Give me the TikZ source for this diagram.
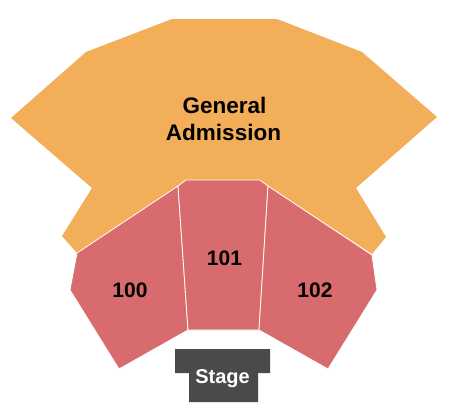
\documentclass[tikz,border=0pt]{standalone}
\usepackage{fontspec}
\setmainfont{Liberation Sans}
\definecolor{gacol}{HTML}{F2AE58}
\definecolor{seccol}{HTML}{D86B6D}
\definecolor{stagecol}{HTML}{4A4A4A}
\tikzset{
  area/.style={draw=white, line width=0.8pt, line join=round},
  lbl/.style={font=\bfseries\fontsize{21}{25}\selectfont, text=black, anchor=base, inner sep=0pt},
}
\begin{document}
\begin{tikzpicture}[x=1pt, y=-1pt]
\useasboundingbox (0,0) rectangle (450,413);
% General Admission
\fill[gacol] (172,19) -- (277,19) -- (362,52) -- (437,117) -- (356,188) -- (386,237) -- (372,254)
  -- (268,186) -- (260,180) -- (186,180) -- (178,186) -- (77,253) -- (62,236) -- (92,188)
  -- (11,118) -- (86,52) -- cycle;
% Sections
\filldraw[area, fill=seccol] (77,253) -- (178,186) -- (188,330) -- (119,369) -- (70,290) -- cycle;
\filldraw[area, fill=seccol] (186,180) -- (260,180) -- (268,186) -- (259,330) -- (188,330) -- (178,186) -- cycle;
\filldraw[area, fill=seccol] (268,186) -- (372,255) -- (377,290) -- (328,369) -- (259,330) -- cycle;
% Stage
\fill[stagecol] (175,349) -- (270,349) -- (270,373) -- (258,373) -- (258,402) -- (189,402) -- (189,373) -- (175,373) -- cycle;
% Labels
\node[lbl, font=\bfseries\fontsize{22.5}{27}\selectfont] (gen) at (224.5,113) {General};
\node[lbl, font=\bfseries\fontsize{22.5}{27}\selectfont] (adm) at (223.5,140) {Admission};
\node[lbl] (s100) at (130,297) {100};
\node[lbl] (s101) at (224.5,265) {101};
\node[lbl] (s102) at (315,297) {102};
\node[lbl, text=white, font=\bfseries\fontsize{20}{24}\selectfont] (stg) at (222.5,383) {Stage};
\end{tikzpicture}
\end{document}
